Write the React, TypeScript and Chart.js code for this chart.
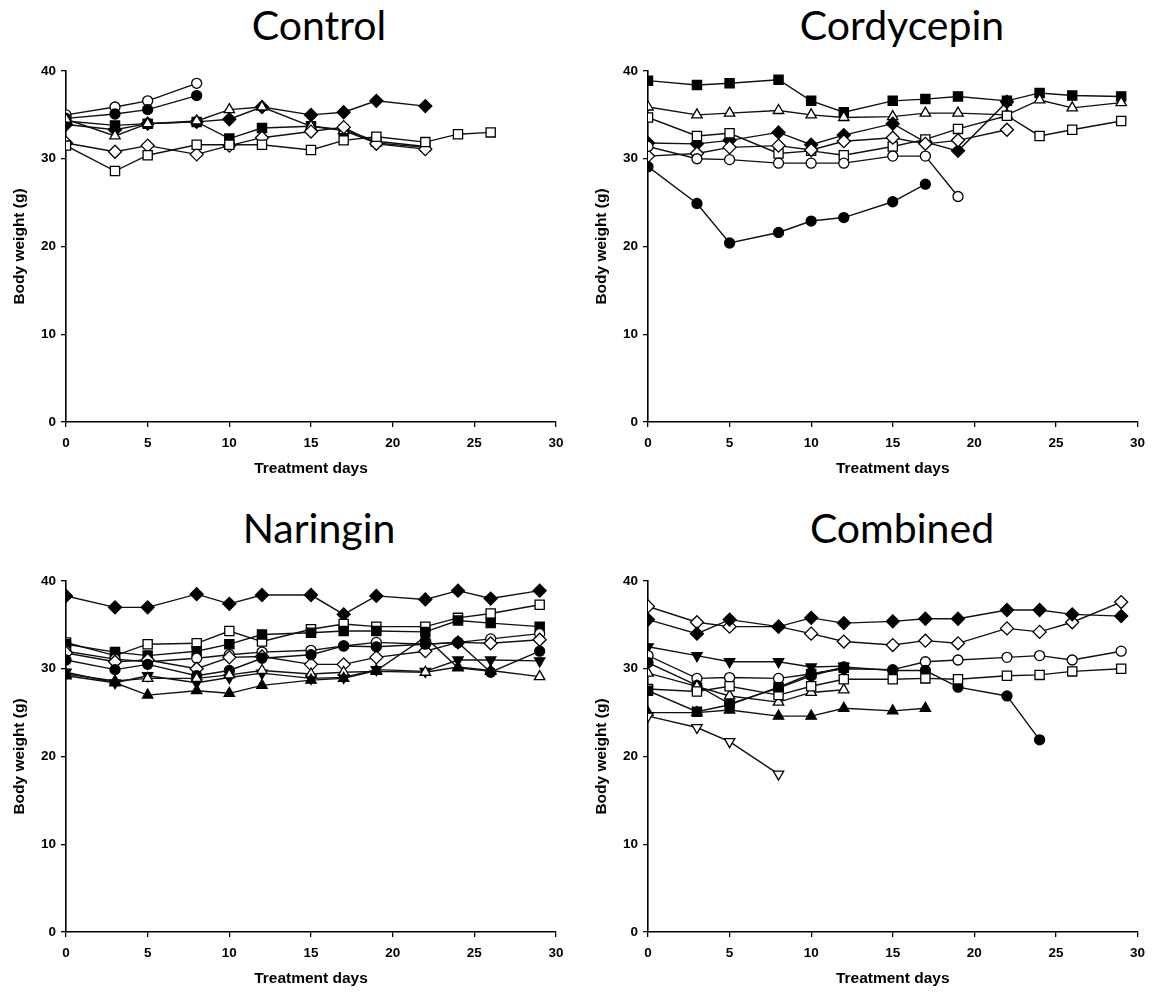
import React, { useEffect, useRef } from 'react';
import { Chart, registerables } from 'chart.js';
Chart.register(...registerables);

// Treatment days (x values)
const days = [0, 3, 5, 8, 10, 12, 15, 17, 19, 22, 24, 26, 29];
const xTicks = [0, 5, 10, 15, 20, 25, 30];
const yTicks = [0, 10, 20, 30, 40];

// Control
const ctrlOpenCircle = [35.0, 35.9, 36.6, 38.6];
const ctrlFilledCircle = [34.6, 35.1, 35.6, 37.2];
const ctrlFilledDiamond = [33.9, 33.3, 34.0, 34.2, 34.5, 35.9, 35.0, 35.3, 36.6, 36.0];
const ctrlFilledSquare = [34.3, 33.8, 34.0, 34.2, 32.3, 33.5, 33.7, 33.3, 32.0, 31.4];
const ctrlOpenTriangle = [34.5, 32.6, 34.0, 34.3, 35.6, 35.9, 33.7, 33.2, 31.8, 31.3];
const ctrlOpenDiamond = [31.8, 30.8, 31.5, 30.5, 31.5, 32.4, 33.1, 33.6, 31.7, 31.1];
const ctrlOpenSquare = [31.5, 28.6, 30.4, 31.6, 31.6, 31.6, 31.0, 32.1, 32.5, 31.9, 32.8, 33.0];

// Cordycepin
const cordFilledSquare = [38.9, 38.4, 38.6, 39.0, 36.6, 35.3, 36.6, 36.8, 37.1, 36.6, 37.5, 37.2, 37.1];
const cordOpenTriangle = [35.9, 35.0, 35.2, 35.5, 35.0, 34.7, 34.8, 35.2, 35.2, 35.0, 36.7, 35.8, 36.4];
const cordOpenSquare = [34.7, 32.6, 32.9, 30.6, 30.9, 30.4, 31.4, 32.2, 33.4, 34.9, 32.6, 33.3, 34.3];
const cordFilledDiamond = [31.8, 31.7, 32.1, 33.0, 31.6, 32.7, 34.0, 31.9, 30.9, 36.5];
const cordOpenDiamond = [30.3, 30.6, 31.3, 31.5, 31.0, 32.0, 32.4, 31.7, 32.1, 33.3];
const cordOpenCircle = [31.4, 30.0, 29.9, 29.5, 29.5, 29.5, 30.3, 30.3, 25.7];
const cordFilledCircle = [29.1, 24.9, 20.4, 21.6, 22.9, 23.3, 25.1, 27.1];

// Naringin
const narFilledDiamond = [38.3, 37.0, 37.0, 38.5, 37.4, 38.4, 38.4, 36.2, 38.3, 37.9, 38.9, 38.0, 38.9];
const narOpenSquare = [33.0, 31.5, 32.8, 32.9, 34.3, 33.1, 34.5, 35.1, 34.8, 34.8, 35.8, 36.3, 37.3];
const narFilledSquare = [32.8, 31.9, 31.5, 32.0, 32.8, 33.9, 34.1, 34.3, 34.3, 34.2, 35.5, 35.2, 34.8];
const narOpenCircle = [32.0, 31.1, 30.8, 31.2, 31.6, 31.9, 32.1, 32.6, 33.0, 32.8, 33.0, 33.4, 34.0];
const narOpenDiamond = [31.8, 30.8, 31.0, 30.0, 31.3, 31.4, 30.5, 30.5, 31.3, 32.0, 33.0, 32.9, 33.3];
const narFilledCircle = [31.0, 29.9, 30.5, 29.2, 29.8, 31.2, 31.6, 32.6, 32.5, 32.8, 33.0, 29.6, 32.0];
const narFilledTriangleDown = [29.6, 28.4, 29.2, 28.4, 29.0, 29.5, 28.9, 29.0, 29.9, 29.7, 31.0, 31.0, 30.9];
const narOpenTriangle = [29.4, 28.6, 28.9, 28.9, 29.3, 29.8, 29.4, 29.6, 29.7, 29.6, 30.2, 29.8, 29.1];
const narFilledTriangle = [29.2, 28.4, 27.0, 27.5, 27.2, 28.1, 28.7, 28.9, 29.8, 33.6, 30.1, 29.7];

// Combined
const combOpenDiamond = [37.1, 35.3, 34.8, 34.8, 34.0, 33.1, 32.7, 33.2, 32.9, 34.6, 34.2, 35.3, 37.6];
const combFilledDiamond = [35.6, 34.0, 35.6, 34.8, 35.8, 35.2, 35.4, 35.7, 35.7, 36.7, 36.7, 36.2, 36.0];
const combFilledTriangleDown = [32.5, 31.5, 30.8, 30.8, 30.2, 30.3];
const combOpenCircle = [31.5, 28.9, 29.0, 28.9, 29.4, 30.0, 29.9, 30.8, 31.0, 31.3, 31.5, 31.0, 32.0];
const combFilledCircle = [30.7, 28.1, 26.0, 27.8, 29.2, 30.2, 29.8, 29.8, 27.9, 26.9, 21.9];
const combOpenTriangle = [29.5, 28.0, 26.9, 26.2, 27.3, 27.6];
const combOpenSquare = [27.7, 27.4, 28.0, 27.0, 28.0, 28.8, 28.8, 28.9, 28.8, 29.2, 29.3, 29.7, 30.0];
const combFilledSquare = [27.5, 25.1, 25.9, 27.9, 29.4, 30.1];
const combFilledTriangle = [25.0, 25.0, 25.3, 24.6, 24.6, 25.5, 25.2, 25.5];
const combOpenTriangleDown = [24.6, 23.3, 21.7, 18.0];

type MarkerKey = 'oc' | 'fc' | 'os' | 'fs' | 'od' | 'fd' | 'ot' | 'ft' | 'otd' | 'ftd';
const markers: Record<MarkerKey, { style: string; r: number; fill: string; rot: number }> = {
  oc: { style: 'circle', r: 5, fill: '#ffffff', rot: 0 },
  fc: { style: 'circle', r: 5, fill: '#000000', rot: 0 },
  os: { style: 'rect', r: 6.5, fill: '#ffffff', rot: 0 },
  fs: { style: 'rect', r: 6.5, fill: '#000000', rot: 0 },
  od: { style: 'rectRot', r: 6.5, fill: '#ffffff', rot: 0 },
  fd: { style: 'rectRot', r: 6.5, fill: '#000000', rot: 0 },
  ot: { style: 'triangle', r: 6, fill: '#ffffff', rot: 0 },
  ft: { style: 'triangle', r: 6, fill: '#000000', rot: 0 },
  otd: { style: 'triangle', r: 6, fill: '#ffffff', rot: 180 },
  ftd: { style: 'triangle', r: 6, fill: '#000000', rot: 180 },
};

type Series = { values: number[]; m: MarkerKey };
type PanelCfg = {
  title: string; left: number; top: number; width: number; padRight: number;
  titleX: number; titleTop: number; series: Series[];
};

const panels: PanelCfg[] = [
  {
    title: 'Control', left: 0, top: 40, width: 576, padRight: 20, titleX: 319, titleTop: 4,
    series: [
      { values: ctrlOpenSquare, m: 'os' },
      { values: ctrlOpenDiamond, m: 'od' },
      { values: ctrlOpenTriangle, m: 'ot' },
      { values: ctrlFilledSquare, m: 'fs' },
      { values: ctrlFilledDiamond, m: 'fd' },
      { values: ctrlFilledCircle, m: 'fc' },
      { values: ctrlOpenCircle, m: 'oc' },
    ],
  },
  {
    title: 'Cordycepin', left: 582, top: 40, width: 571, padRight: 14, titleX: 902, titleTop: 4,
    series: [
      { values: cordFilledCircle, m: 'fc' },
      { values: cordOpenCircle, m: 'oc' },
      { values: cordOpenDiamond, m: 'od' },
      { values: cordOpenSquare, m: 'os' },
      { values: cordFilledDiamond, m: 'fd' },
      { values: cordOpenTriangle, m: 'ot' },
      { values: cordFilledSquare, m: 'fs' },
    ],
  },
  {
    title: 'Naringin', left: 0, top: 550, width: 576, padRight: 20, titleX: 319, titleTop: 507,
    series: [
      { values: narFilledTriangle, m: 'ft' },
      { values: narOpenTriangle, m: 'ot' },
      { values: narFilledTriangleDown, m: 'ftd' },
      { values: narFilledCircle, m: 'fc' },
      { values: narOpenDiamond, m: 'od' },
      { values: narOpenCircle, m: 'oc' },
      { values: narFilledSquare, m: 'fs' },
      { values: narOpenSquare, m: 'os' },
      { values: narFilledDiamond, m: 'fd' },
    ],
  },
  {
    title: 'Combined', left: 582, top: 550, width: 571, padRight: 14, titleX: 902, titleTop: 507,
    series: [
      { values: combOpenTriangleDown, m: 'otd' },
      { values: combFilledTriangle, m: 'ft' },
      { values: combFilledSquare, m: 'fs' },
      { values: combOpenSquare, m: 'os' },
      { values: combOpenTriangle, m: 'ot' },
      { values: combFilledCircle, m: 'fc' },
      { values: combOpenCircle, m: 'oc' },
      { values: combFilledTriangleDown, m: 'ftd' },
      { values: combFilledDiamond, m: 'fd' },
      { values: combOpenDiamond, m: 'od' },
    ],
  },
];

const CANVAS_H = 442;
const tickFont = { family: '"Liberation Sans", Arial, sans-serif', weight: 'bold' as const, size: 13.5 };
const titleFont = { family: '"Liberation Sans", Arial, sans-serif', weight: 'bold' as const, size: 15.5 };

function Panel({ cfg }: { cfg: PanelCfg }) {
  const ref = useRef<HTMLCanvasElement>(null);
  useEffect(() => {
    if (!ref.current) return;
    const chart = new Chart(ref.current, {
      type: 'line',
      data: {
        datasets: cfg.series.map((s) => {
          const mk = markers[s.m];
          return {
            data: s.values.map((v, i) => ({ x: days[i], y: v })),
            borderColor: '#111111',
            borderWidth: 1.4,
            pointStyle: mk.style as any,
            pointRadius: mk.r,
            pointBackgroundColor: mk.fill,
            pointBorderColor: '#000000',
            pointBorderWidth: 1.3,
            pointRotation: mk.rot,
            fill: false,
            tension: 0,
          };
        }),
      },
      options: {
        responsive: false,
        animation: false,
        events: [],
        layout: { padding: { left: 0, top: 31, right: cfg.padRight, bottom: 0 } },
        plugins: { legend: { display: false }, tooltip: { enabled: false } },
        scales: {
          x: {
            type: 'linear',
            min: 0,
            max: 30,
            afterBuildTicks: (scale: any) => { scale.ticks = xTicks.map((v) => ({ value: v })); },
            afterFit: (scale: any) => { scale.height = 60; },
            ticks: { color: '#000', font: tickFont, padding: 8, maxRotation: 0, autoSkip: false },
            grid: { display: true, drawOnChartArea: false, drawTicks: true, tickLength: 5, color: '#000', lineWidth: 1.3 },
            border: { display: true, color: '#000', width: 1.6 },
            title: { display: true, text: 'Treatment days', color: '#000', font: titleFont, padding: { top: 4, bottom: 4 } },
          },
          y: {
            type: 'linear',
            min: 0,
            max: 40,
            afterBuildTicks: (scale: any) => { scale.ticks = yTicks.map((v) => ({ value: v })); },
            afterFit: (scale: any) => { scale.width = 66; },
            ticks: { color: '#000', font: tickFont, padding: 5, autoSkip: false },
            grid: { display: true, drawOnChartArea: false, drawTicks: true, tickLength: 5, color: '#000', lineWidth: 1.3 },
            border: { display: true, color: '#000', width: 1.6 },
            title: { display: true, text: 'Body weight (g)', color: '#000', font: titleFont, padding: { top: 10, bottom: 0 } },
          },
        },
      } as any,
    });
    return () => chart.destroy();
  }, [cfg]);
  return (
    <canvas
      ref={ref}
      width={cfg.width}
      height={CANVAS_H}
      style={{ position: 'absolute', left: cfg.left, top: cfg.top, width: cfg.width, height: CANVAS_H }}
    />
  );
}

export default function App() {
  return (
    <div style={{ position: 'absolute', left: 0, top: 0, width: 1153, height: 995, background: '#ffffff', overflow: 'hidden' }}>
      {panels.map((p) => (
        <React.Fragment key={p.title}>
          <div
            style={{
              position: 'absolute', left: p.titleX - 200, width: 400, top: p.titleTop, textAlign: 'center',
              fontFamily: 'Lato, "Noto Sans", sans-serif', fontSize: 41, lineHeight: '41px', color: '#000',
            }}
          >
            {p.title}
          </div>
          <Panel cfg={p} />
        </React.Fragment>
      ))}
    </div>
  );
}
